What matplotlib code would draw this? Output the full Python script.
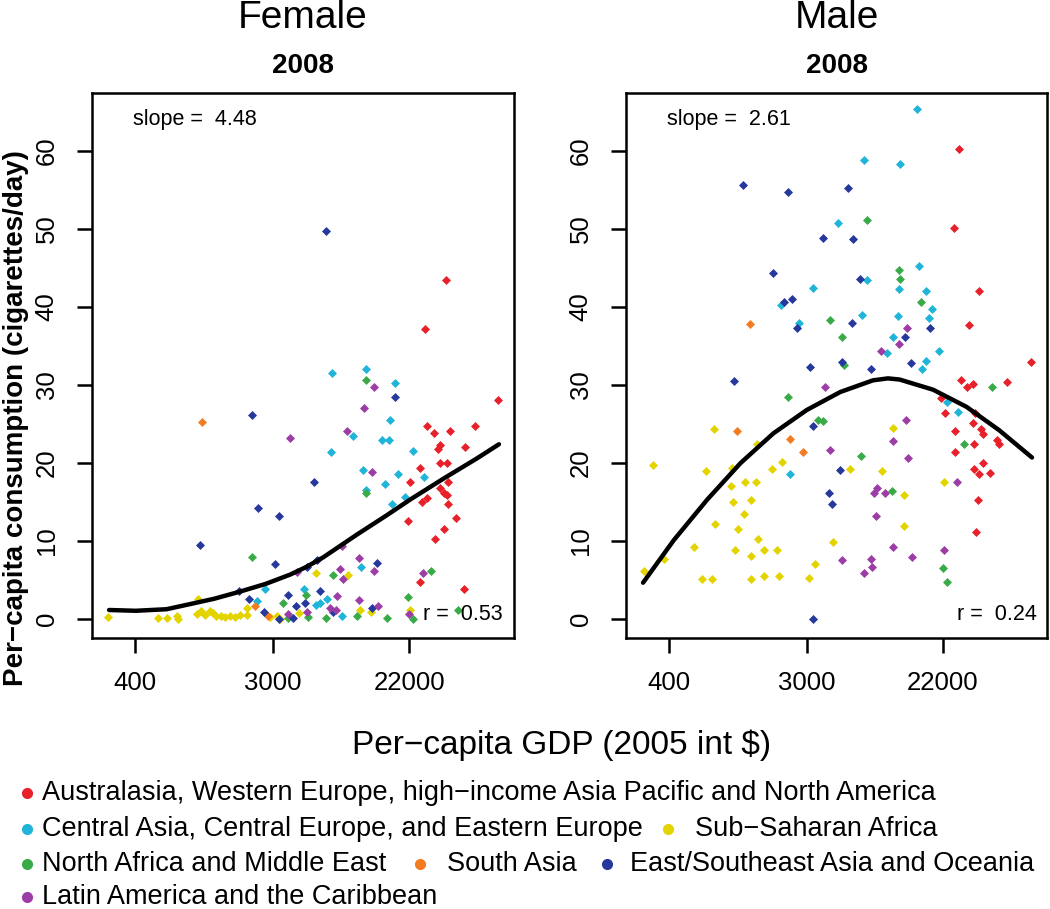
import numpy as np
import matplotlib.pyplot as plt
from matplotlib.lines import Line2D

plt.rcParams['font.family'] = ['Liberation Sans', 'DejaVu Sans']

W, H = 1050, 909

# x values are natural log of per-capita GDP (2005 int $), y is cigarettes/day
gdp_ticks = [400, 3000, 22000]
cig_ticks = [0, 10, 20, 30, 40, 50, 60]

region_names = ['Australasia, Western Europe, high\u2212income Asia Pacific and North America',
                'Central Asia, Central Europe, and Eastern Europe',
                'Sub\u2212Saharan Africa',
                'North Africa and Middle East',
                'South Asia',
                'East/Southeast Asia and Oceania',
                'Latin America and the Caribbean']
region_colors = ['#e8202a', '#20b5d8', '#e3d400', '#3aaa48', '#f47c20', '#26389c', '#9b3da5']

# ---- Female ----
fem_hi_x = [10.54, 10.23, 11.30, 10.26, 10.36, 10.59, 10.96, 10.45, 10.42, 10.81, 10.16, 10.45, 10.55, 10.01,
            10.57, 10.45, 10.50, 10.55, 10.26, 10.19, 10.57, 10.68, 9.98, 10.50, 10.38, 10.15, 10.80]
fem_hi_y = [43.5, 37.2, 28.1, 24.7, 23.8, 24.1, 24.7, 22.3, 21.8, 22.1, 19.4, 20.0, 20.0, 17.5,
            17.6, 16.8, 16.1, 15.9, 15.5, 15.0, 14.8, 12.9, 12.6, 11.6, 10.2, 4.8, 3.8]
fem_ce_x = [8.87, 9.36, 9.79, 9.72, 9.18, 9.60, 9.70, 8.85, 10.06, 9.32, 9.84, 10.22, 9.65, 9.36,
            9.94, 9.75, 9.29, 7.89, 7.77, 8.46, 8.64, 8.70, 8.80, 9.01]
fem_ce_y = [31.6, 32.1, 30.2, 25.5, 23.5, 23.0, 23.0, 21.4, 21.5, 19.1, 18.6, 18.2, 17.3, 16.5,
            15.7, 14.7, 6.7, 3.9, 2.3, 3.9, 1.8, 2.1, 2.5, 0.4]
fem_ss_x = [5.59, 6.33, 6.46, 6.61, 6.62, 6.91, 6.90, 6.96, 7.01, 7.08, 7.13, 7.18, 7.24, 7.30,
            7.38, 7.45, 7.52, 7.63, 7.62, 7.96, 8.06, 8.11, 8.38, 8.64, 9.11, 9.28, 9.44, 10.01]
fem_ss_y = [0.2, 0.1, 0.1, 0.4, 0.0, 2.5, 0.6, 1.0, 0.5, 1.0, 0.8, 0.4, 0.4, 0.2,
            0.4, 0.2, 0.5, 1.4, 0.5, 0.2, 0.4, 0.0, 0.8, 5.9, 5.7, 1.2, 0.9, 1.2]
fem_na_x = [9.37, 9.36, 7.70, 8.88, 10.31, 8.49, 8.15, 9.23, 8.78, 8.52, 8.23, 9.67, 9.98, 10.05, 10.71]
fem_na_y = [30.6, 16.2, 8.0, 5.6, 6.2, 3.1, 2.1, 0.4, 0.1, 0.2, 0.1, 0.1, 2.8, 0.0, 1.2]
fem_sa_x = [6.97, 7.94, 7.74]
fem_sa_y = [25.2, 0.4, 1.7]
fem_ea_x = [8.78, 9.79, 7.70, 8.61, 7.78, 8.09, 6.94, 8.04, 9.52, 8.51, 8.65, 7.51, 7.65, 8.69,
            8.22, 8.34, 8.48, 9.45, 8.09, 7.87, 8.30, 8.89]
fem_ea_y = [49.8, 28.5, 26.2, 17.6, 14.2, 13.2, 9.5, 7.1, 7.2, 6.7, 7.5, 3.6, 2.5, 3.6,
            3.1, 1.7, 2.0, 1.4, 0.0, 0.9, 0.1, 0.9]
fem_la_x = [9.48, 9.33, 9.09, 8.26, 9.45, 9.01, 9.27, 9.48, 8.35, 8.98, 9.03, 10.20, 8.94, 8.84,
            8.93, 9.27, 9.54, 8.51, 8.23, 10.00]
fem_la_y = [29.7, 27.1, 24.1, 23.2, 18.8, 9.3, 7.8, 6.2, 6.0, 6.4, 5.1, 5.9, 2.9, 1.4,
            1.2, 2.4, 1.7, 0.9, 0.7, 0.7]
fem_fit_x = [5.61, 6.00, 6.45, 6.79, 7.15, 7.52, 7.90, 8.26, 8.50, 8.74, 9.23, 9.67, 10.01, 10.50, 10.99, 11.31]
fem_fit_y = [1.15, 1.05, 1.25, 1.9, 2.6, 3.5, 4.5, 5.7, 6.7, 7.9, 10.8, 13.3, 15.3, 18.0, 20.6, 22.4]

# ---- Male ----
mal_hi_x = [10.24, 10.17, 10.54, 10.38, 11.29, 10.27, 10.95, 10.36, 10.44, 9.97, 10.04, 10.47, 10.18,
            10.44, 10.57, 10.59, 10.79, 10.82, 10.46, 10.18, 10.59, 10.46, 10.53, 10.69, 10.52, 10.49]
mal_hi_y = [60.3, 50.1, 42.0, 37.7, 32.9, 30.7, 30.4, 29.8, 30.1, 28.3, 26.4, 26.4, 24.1,
            25.1, 24.4, 23.7, 23.0, 22.4, 22.4, 21.4, 20.0, 19.2, 18.6, 18.7, 15.3, 11.2]
mal_ce_x = [9.62, 8.85, 9.38, 8.46, 9.66, 8.89, 8.10, 9.36, 9.76, 7.63, 9.84, 7.90, 8.82, 9.34,
            9.80, 9.28, 9.94, 9.18, 9.75, 9.70, 10.07, 10.22, 7.77]
mal_ce_y = [65.4, 58.8, 58.4, 50.8, 45.3, 43.4, 42.5, 42.3, 42.0, 40.3, 39.8, 38.0, 39.0, 38.9,
            38.6, 36.1, 34.4, 34.1, 33.1, 32.1, 27.8, 26.5, 18.6]
mal_ss_x = [6.65, 9.28, 7.28, 5.75, 6.53, 6.92, 7.50, 7.64, 8.64, 9.11, 10.02, 6.90, 7.11, 7.26,
            9.43, 6.93, 7.19, 7.09, 6.66, 7.00, 9.43, 7.29, 8.40, 6.36, 6.96, 7.38, 7.58, 7.19,
            5.62, 5.91, 8.13, 8.04, 6.48, 6.62, 7.19, 7.38, 7.60]
mal_ss_y = [24.4, 24.5, 22.4, 19.7, 19.0, 19.4, 19.2, 20.1, 19.2, 19.0, 17.5, 17.0, 17.5, 17.5,
            15.9, 15.0, 15.3, 13.5, 12.2, 11.6, 11.9, 10.2, 9.9, 9.2, 8.9, 8.9, 8.9, 8.1,
            6.2, 7.7, 7.1, 5.3, 5.1, 5.1, 5.1, 5.5, 5.5]
mal_na_x = [8.89, 9.36, 9.37, 9.68, 8.35, 8.52, 8.55, 10.72, 7.73, 8.17, 8.25, 10.31, 8.80, 9.26, 10.00, 10.07]
mal_na_y = [51.1, 44.7, 43.6, 40.6, 38.3, 36.2, 32.6, 29.8, 28.4, 25.5, 25.4, 22.4, 20.9, 16.4, 6.5, 4.8]
mal_sa_x = [7.17, 6.98, 7.77, 7.95]
mal_sa_y = [37.8, 24.1, 23.1, 21.4]
mal_ea_x = [7.08, 7.73, 8.61, 8.24, 8.69, 7.52, 8.79, 7.80, 7.67, 7.86, 8.67, 9.81, 9.45, 8.06,
            8.53, 8.95, 9.53, 6.95, 8.10, 8.50, 8.34, 8.38, 8.10]
mal_ea_y = [55.7, 54.7, 55.2, 48.8, 48.7, 44.4, 43.6, 41.0, 40.6, 37.3, 37.9, 37.3, 36.2, 32.3,
            32.9, 32.1, 32.8, 30.5, 24.8, 19.1, 16.2, 14.8, 0.0]
mal_la_x = [9.48, 9.36, 9.09, 8.28, 9.47, 9.28, 8.35, 9.50, 10.21, 9.00, 9.04, 9.16, 9.02, 9.27,
            10.02, 9.55, 8.52, 8.95, 8.97, 8.85]
mal_la_y = [37.3, 35.3, 34.4, 29.8, 25.5, 22.8, 21.7, 20.7, 17.5, 16.2, 16.8, 16.2, 13.2, 9.2,
            8.9, 7.9, 7.5, 7.7, 6.6, 5.9]
mal_fit_x = [5.61, 6.06, 6.55, 7.04, 7.52, 8.01, 8.50, 8.98, 9.20, 9.37, 9.86, 10.35, 10.83, 11.31]
mal_fit_y = [4.65, 10.1, 15.3, 20.0, 23.8, 26.8, 29.1, 30.6, 30.85, 30.7, 29.4, 27.2, 24.2, 20.7]

slopes = [4.48, 2.61]
r_vals = [0.53, 0.24]


def fx(px):
    return px / W


def fy(py):
    return 1 - py / H


fig = plt.figure(figsize=(W / 100, H / 100), dpi=100)
ax_f = fig.add_axes([fx(92), fy(638), 422 / W, 545 / H])
ax_m = fig.add_axes([fx(626), fy(638), 421 / W, 545 / H])

panels = [
    (ax_f, 'Female', 92, [(fem_hi_x, fem_hi_y), (fem_ce_x, fem_ce_y), (fem_ss_x, fem_ss_y), (fem_na_x, fem_na_y),
                          (fem_sa_x, fem_sa_y), (fem_ea_x, fem_ea_y), (fem_la_x, fem_la_y)],
     fem_fit_x, fem_fit_y),
    (ax_m, 'Male', 626, [(mal_hi_x, mal_hi_y), (mal_ce_x, mal_ce_y), (mal_ss_x, mal_ss_y), (mal_na_x, mal_na_y),
                         (mal_sa_x, mal_sa_y), (mal_ea_x, mal_ea_y), (mal_la_x, mal_la_y)],
     mal_fit_x, mal_fit_y),
]

for i, (ax, title, left, groups, fit_x, fit_y) in enumerate(panels):
    for (gx, gy), col in zip(groups, region_colors):
        ax.scatter(gx, gy, marker='D', s=21, c=col, linewidths=0, zorder=2)
    ax.plot(fit_x, fit_y, color='black', lw=3.2, solid_capstyle='round',
            solid_joinstyle='round', zorder=3)

    ax.set_xlim(5.36, 11.53)
    ax.set_ylim(-2.44, 67.44)
    ax.set_xticks(np.log(gdp_ticks))
    ax.set_xticklabels([str(t) for t in gdp_ticks])
    ax.set_yticks(cig_ticks)
    ax.set_yticklabels([str(t) for t in cig_ticks], rotation=90, va='center')
    ax.tick_params(length=11, width=1.8, labelsize=18.5, color='black')
    ax.tick_params(axis='x', pad=13)
    ax.tick_params(axis='y', pad=13)
    for s in ax.spines.values():
        s.set_linewidth(1.8)

    cx = left + 211
    fig.text(fx(cx), fy(18), title, ha='center', va='center', fontsize=28)
    fig.text(fx(cx), fy(66), '2008', ha='center', va='center', fontsize=20, fontweight='bold')
    fig.text(fx(left + 41), fy(119), 'slope =  {:.2f}'.format(slopes[i]), ha='left', va='center', fontsize=15.5)
    fig.text(fx(left + 411), fy(615), 'r =  {:.2f}'.format(r_vals[i]), ha='right', va='center', fontsize=15.5)

fig.text(fx(16), fy(418), 'Per\u2212capita consumption (cigarettes/day)', rotation=90,
         ha='center', va='center', fontsize=20, fontweight='bold')
fig.text(fx(562), fy(745), 'Per\u2212capita GDP (2005 int $)', ha='center', va='center', fontsize=24)

# legend, laid out in rows like the original
legend_slots = [(27, 42, 793), (27, 42, 829), (668, 695, 829), (27, 42, 864),
                (420, 447, 864), (607, 630, 864), (27, 42, 897)]
for name, col, (dx, tx, ty) in zip(region_names, region_colors, legend_slots):
    fig.add_artist(Line2D([fx(dx)], [fy(ty)], marker='o', markersize=7, color=col,
                          linestyle='none', transform=fig.transFigure))
    fig.text(fx(tx), fy(ty), name, ha='left', va='center', fontsize=19.5)

fig.savefig('out.png', dpi=100)
